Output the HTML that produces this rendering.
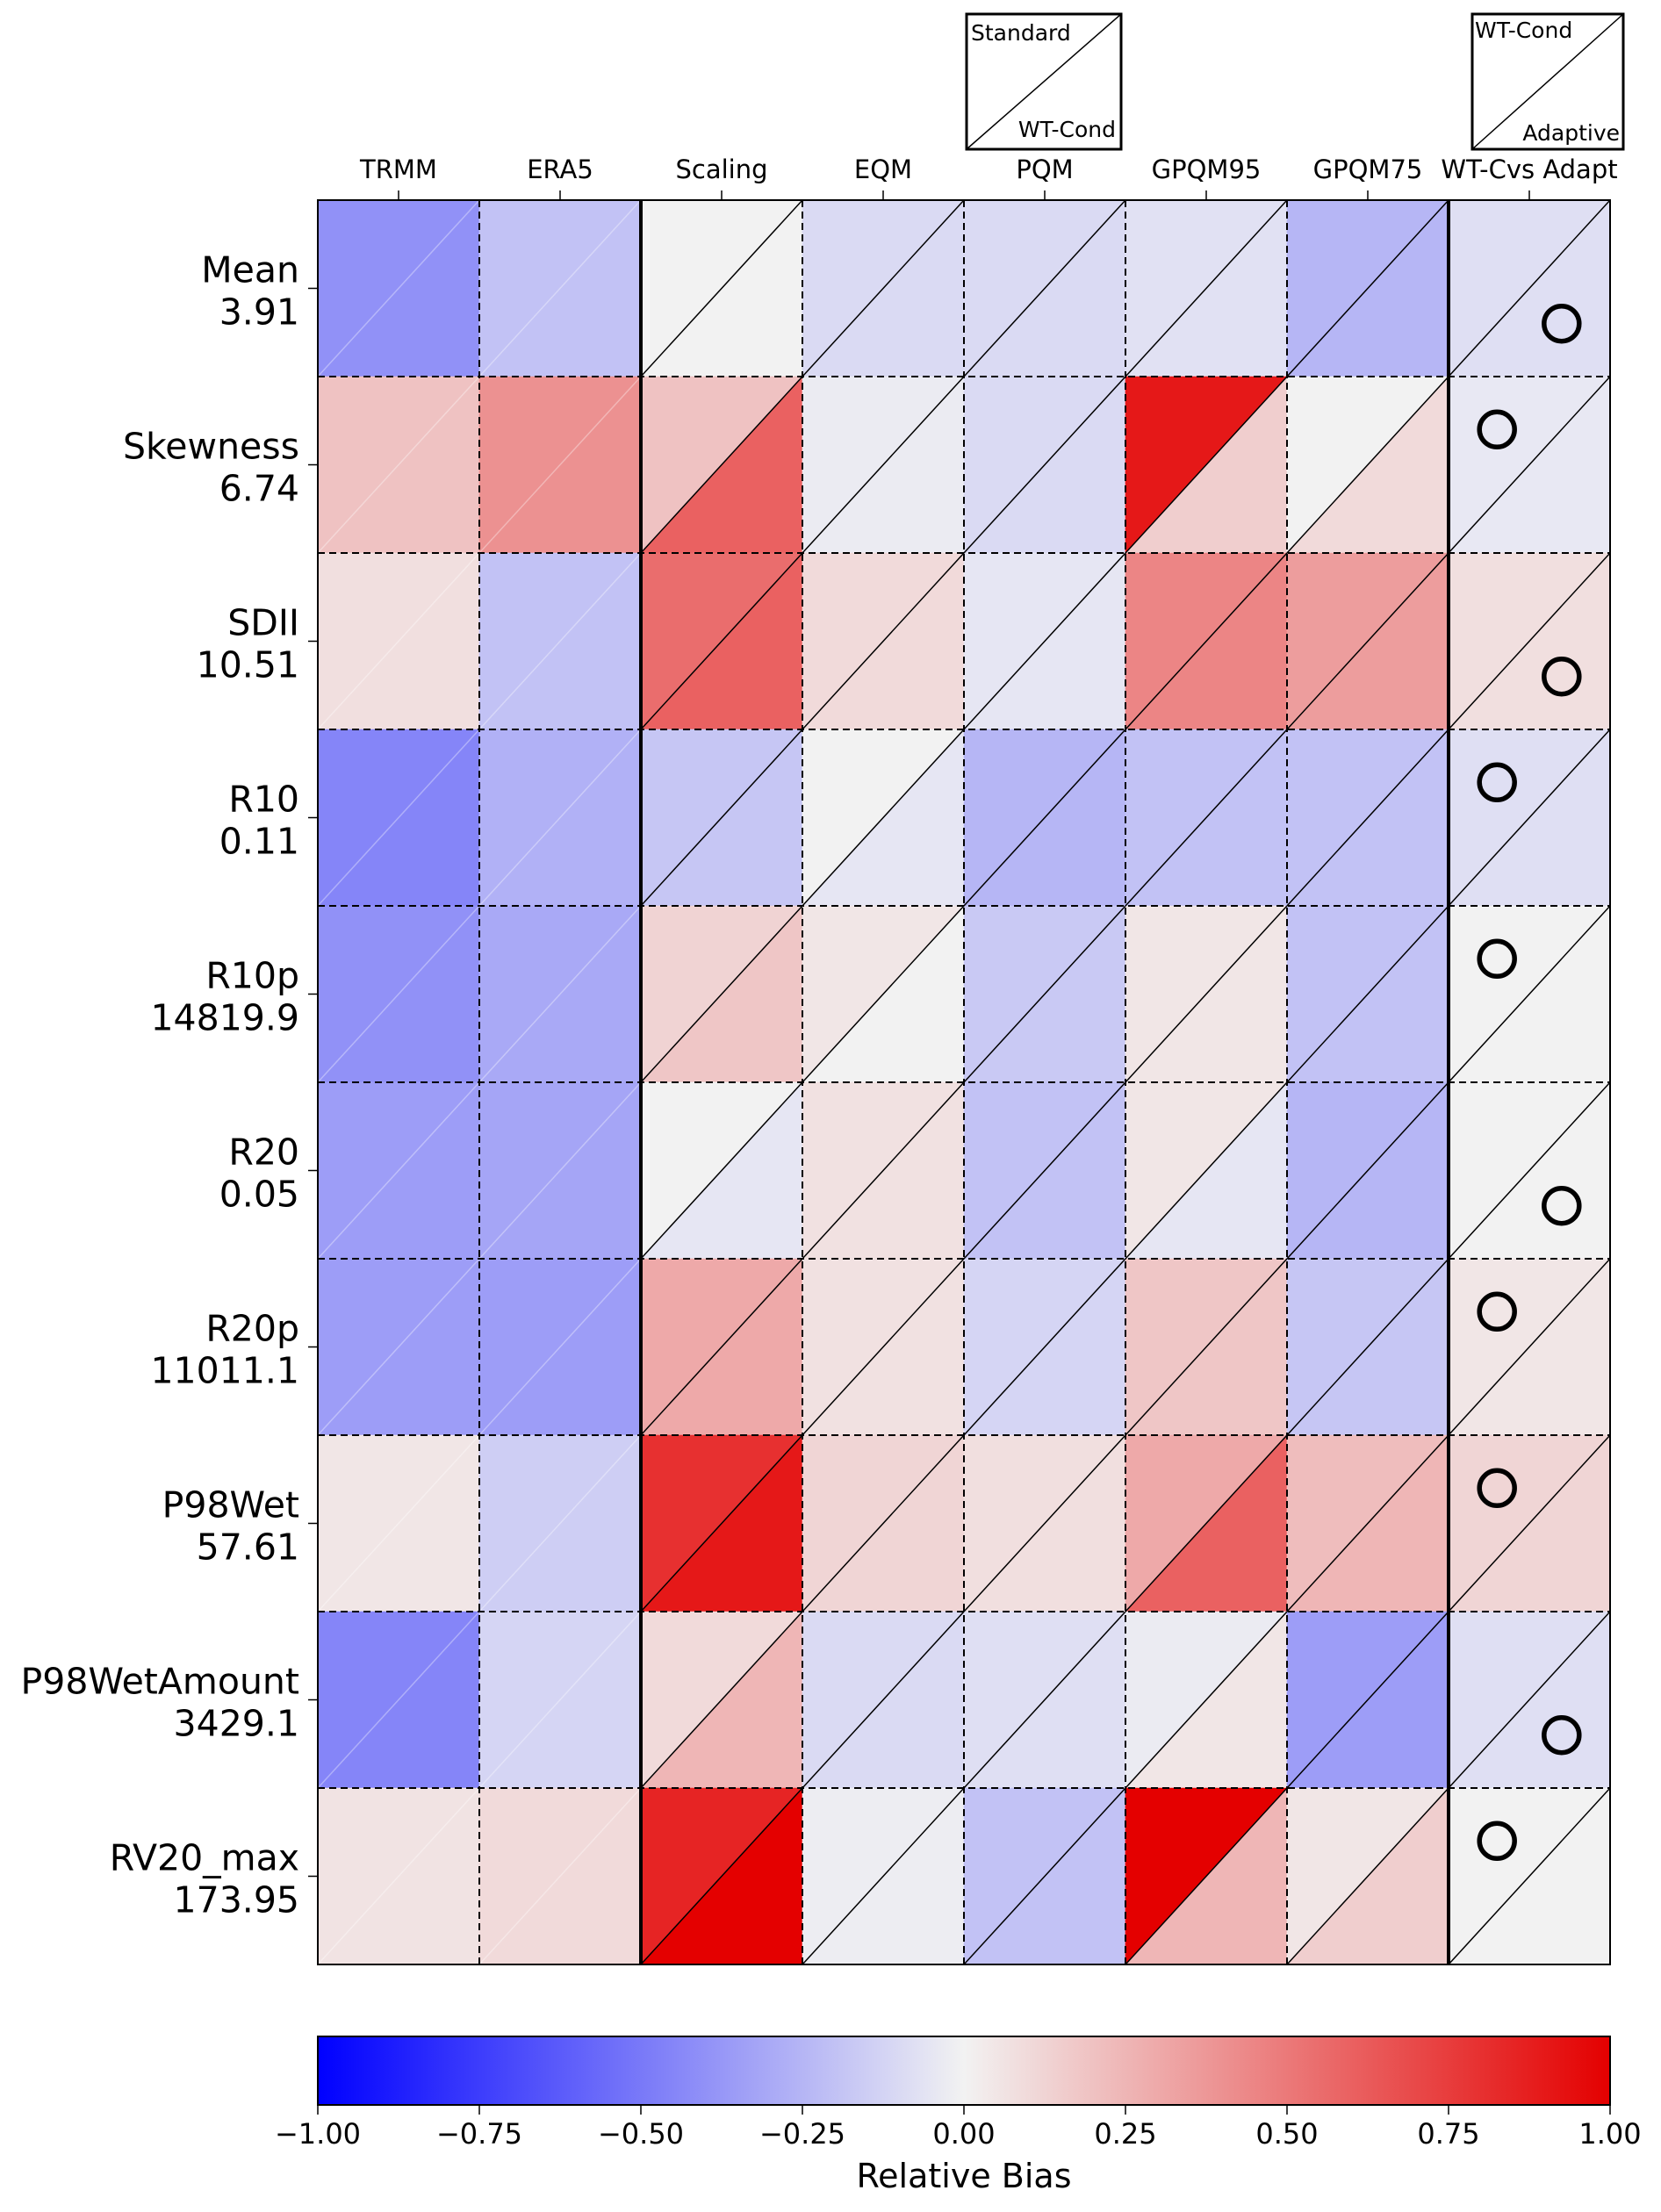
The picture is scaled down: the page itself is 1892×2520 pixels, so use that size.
<!DOCTYPE html>
<html><head><meta charset="utf-8"><style>
html,body{margin:0;padding:0;background:#fff;}
svg text{font-family:"DejaVu Sans","Liberation Sans",sans-serif;fill:#000;}
</style></head><body>
<svg id="chart" xmlns="http://www.w3.org/2000/svg" width="1892" height="2515" viewBox="0 0 1892 2515">
<rect width="1892" height="2515" fill="#fff"/>
<g id="cells"></g><g id="grid"></g><g id="labels"></g>
<g>
<rect x="1101" y="16" width="176" height="154" fill="#fff" stroke="#000" stroke-width="3"/>
<line x1="1101" y1="170" x2="1277" y2="16" stroke="#000" stroke-width="1.5"/>
<text x="1106" y="46" font-size="25">Standard</text>
<text x="1271" y="156" font-size="25" text-anchor="end">WT-Cond</text>
</g>
<g>
<rect x="1677" y="16" width="172" height="154" fill="#fff" stroke="#000" stroke-width="3"/>
<line x1="1677" y1="170" x2="1849" y2="16" stroke="#000" stroke-width="1.5"/>
<text x="1680" y="43" font-size="25">WT-Cond</text>
<text x="1845" y="160" font-size="25" text-anchor="end">Adaptive</text>
</g>
<defs><linearGradient id="cmap" x1="0" x2="1" y1="0" y2="0">
<stop offset="0" stop-color="rgb(0,0,255)"/><stop offset="0.5" stop-color="rgb(242,242,242)"/><stop offset="1" stop-color="rgb(228,0,0)"/>
</linearGradient></defs>
<g id="colorbar">
<rect x="362" y="2320" width="1472" height="78" fill="url(#cmap)" stroke="#000" stroke-width="2"/>
</g>
<text x="1098" y="2492" font-size="38" text-anchor="middle">Relative Bias</text>
</svg>
<script>
const columns = ["TRMM","ERA5","Scaling","EQM","PQM","GPQM95","GPQM75","WT-C vs Adapt"];
const rowNames = ["Mean","Skewness","SDII","R10","R10p","R20","R20p","P98Wet","P98WetAmount","RV20_max"];
const rowValues = ["3.91","6.74","10.51","0.11","14819.9","0.05","11011.1","57.61","3429.1","173.95"];
// upper-left triangle values (Standard / WT-Cond)
const upperBias = [
[-0.4,-0.2,0.0,-0.1,-0.1,-0.07,-0.25,-0.08],
[0.2,0.4,0.2,-0.03,-0.1,0.9,0.0,-0.04],
[0.08,-0.2,0.55,0.1,-0.05,0.45,0.35,0.08],
[-0.45,-0.27,-0.18,0.0,-0.25,-0.2,-0.2,-0.08],
[-0.4,-0.3,0.13,0.05,-0.17,0.05,-0.2,0.0],
[-0.35,-0.32,0.0,0.07,-0.2,0.05,-0.25,0.0],
[-0.35,-0.35,0.3,0.07,-0.12,0.18,-0.18,0.05],
[0.05,-0.15,0.8,0.12,0.08,0.3,0.22,0.12],
[-0.45,-0.12,0.1,-0.1,-0.08,-0.03,-0.35,-0.08],
[0.06,0.1,0.85,-0.02,-0.2,1.0,0.05,0.0]];
// lower-right triangle values (WT-Cond / Adaptive)
const lowerBias = [
[-0.4,-0.2,0.0,-0.1,-0.1,-0.07,-0.25,-0.08],
[0.2,0.4,0.6,-0.03,-0.1,0.15,0.1,-0.04],
[0.08,-0.2,0.6,0.1,-0.05,0.45,0.35,0.08],
[-0.45,-0.27,-0.18,-0.05,-0.25,-0.2,-0.2,-0.08],
[-0.4,-0.3,0.18,0.0,-0.17,0.05,-0.2,0.0],
[-0.35,-0.32,-0.05,0.07,-0.2,-0.05,-0.25,0.0],
[-0.35,-0.35,0.3,0.07,-0.12,0.18,-0.18,0.05],
[0.05,-0.15,0.9,0.12,0.08,0.6,0.25,0.12],
[-0.45,-0.12,0.25,-0.1,-0.08,0.05,-0.35,-0.08],
[0.06,0.1,1.0,-0.02,-0.2,0.25,0.15,0.0]];
// circle marker in last column: "upper" or "lower"
const circleSide = ["lower","upper","lower","upper","upper","lower","upper","upper","lower","upper"];
const cbTicks = [-1,-0.75,-0.5,-0.25,0,0.25,0.5,0.75,1];
const cbTickLabels = ["\u22121.00","\u22120.75","\u22120.50","\u22120.25","0.00","0.25","0.50","0.75","1.00"];

const NS="http://www.w3.org/2000/svg";
const L=362,R=1834,T=228,B=2238;
const cw=(R-L)/columns.length, rh=(B-T)/rowNames.length;
const xCol=i=>L+i*cw, yRow=j=>T+j*rh;
const cbX=v=>362+(v+1)/2*1472;
function color(v){v=Math.max(-1,Math.min(1,v));let r,g,b;
 if(v<0){const t=1+v;r=242*t;g=242*t;b=255-13*t;}else{const t=v;r=242-14*t;g=242*(1-t);b=242*(1-t);}
 return `rgb(${Math.round(r)},${Math.round(g)},${Math.round(b)})`;}
function mk(tag,attrs,parent){const e=document.createElementNS(NS,tag);for(const k in attrs)e.setAttribute(k,attrs[k]);parent.appendChild(e);return e;}
const cells=document.getElementById('cells'),grid=document.getElementById('grid'),labels=document.getElementById('labels');
rowNames.forEach((rn,j)=>{columns.forEach((cn,i)=>{
 const x0=xCol(i),x1=xCol(i+1),y0=yRow(j),y1=yRow(j+1);
 const up=mk('polygon',{points:`${x0},${y0} ${x1},${y0} ${x0},${y1}`,fill:color(upperBias[j][i]),stroke:color(upperBias[j][i]),'stroke-width':0.6},cells);
 
 
 const lo=mk('polygon',{points:`${x1},${y0} ${x1},${y1} ${x0},${y1}`,fill:color(lowerBias[j][i]),stroke:color(lowerBias[j][i]),'stroke-width':0.6},cells);
 
 
 const d=mk('line',{x1:x0,y1:y1,x2:x1,y2:y0,stroke:i<2?'rgba(255,255,255,0.35)':'#000','stroke-width':1.5},grid);
 
 
});
 const side=circleSide[j];const cx=side==='upper'?xCol(7)+0.3*cw:xCol(7)+0.7*cw;const cy=side==='upper'?yRow(j)+0.3*rh:yRow(j)+0.7*rh;
 const c=mk('circle',{cx:cx,cy:cy,r:20,fill:'none',stroke:'#000','stroke-width':5.5},grid);
 
 
 const rc=yRow(j)+rh/2;
 mk('line',{x1:L-11,x2:L,y1:rc,y2:rc,stroke:'#000','stroke-width':1.5},grid);
 const t1=mk('text',{x:341,y:rc-7,'font-size':41,'text-anchor':'end'},labels);t1.textContent=rn;
 
 
 const t2=mk('text',{x:341,y:rc+41,'font-size':41,'text-anchor':'end'},labels);t2.textContent=rowValues[j];
 
 
});
for(let j=1;j<rowNames.length;j++){mk('line',{x1:L,x2:R,y1:yRow(j),y2:yRow(j),stroke:'#000','stroke-width':2,'stroke-dasharray':'8,5'},grid);}
for(let i=1;i<columns.length;i++){const thick=(i===2||i===7);
 mk('line',{x1:xCol(i),x2:xCol(i),y1:T,y2:B,stroke:'#000','stroke-width':thick?4:2,'stroke-dasharray':thick?'none':'8,5'},grid);}
mk('rect',{x:L,y:T,width:R-L,height:B-T,fill:'none',stroke:'#000','stroke-width':2},grid);
columns.forEach((cn,i)=>{const cx=xCol(i)+cw/2;
 mk('line',{x1:cx,x2:cx,y1:T-11,y2:T,stroke:'#000','stroke-width':1.5},grid);
 const t=mk('text',{x:cx,y:203,'font-size':29,'text-anchor':'middle'},labels);
 t.textContent=cn==='WT-C vs Adapt'?'WT-Cvs Adapt':cn;
 
 });
const cb=document.getElementById('colorbar');
cbTicks.forEach((v,k)=>{const x=cbX(v);
 mk('line',{x1:x,x2:x,y1:2398,y2:2409,stroke:'#000','stroke-width':1.5},cb);
 const t=mk('text',{x:x,y:2442,'font-size':32,'text-anchor':'middle'},cb);t.textContent=cbTickLabels[k];
 
 });
</script>
</body></html>
